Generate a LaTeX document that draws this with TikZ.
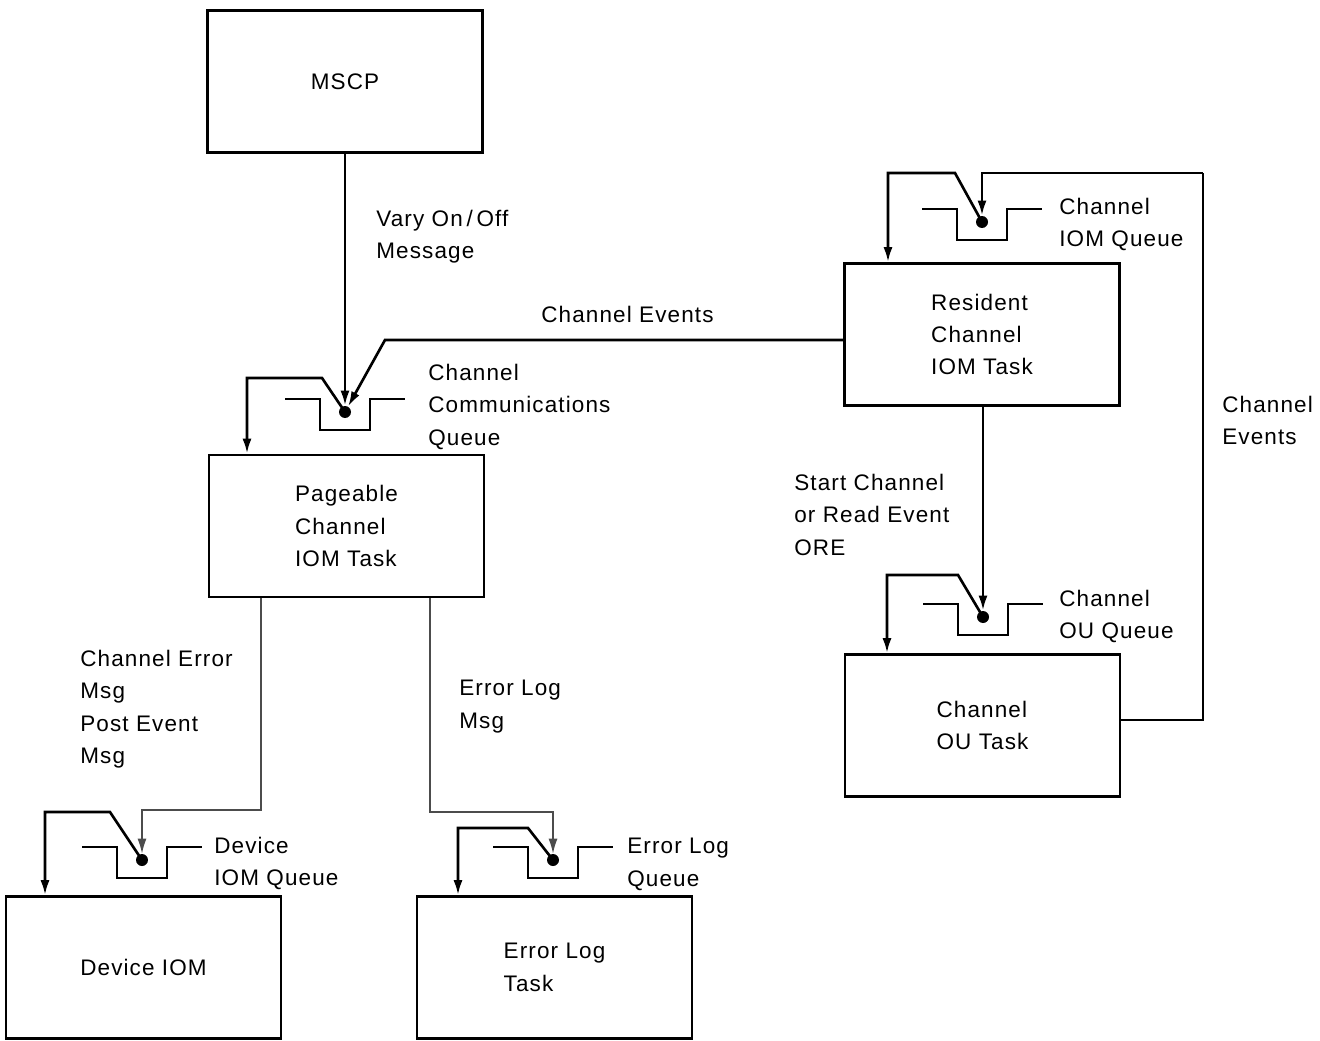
\documentclass[tikz,border=0pt]{standalone}
\usepackage{fontspec}
\setmainfont{Liberation Sans}[LetterSpace=5]
\usetikzlibrary{arrows.meta}

\newcommand{\lblfont}{\fontsize{12.8}{18.4}\selectfont}

% trough of a queue, drawn round its dot
\newcommand{\qtrough}[1]{%
  \draw[qline] ([shift={(-60,-13)}]#1.center) -- ++(35,0) -- ++(0,31)
    -- ++(50,0) -- ++(0,-31) -- ++(35,0);}

\begin{document}
\begin{tikzpicture}[x=0.02cm,y=-0.02cm,>={Latex[length=3mm,width=1.8mm]},
  task/.style={draw, line width=1.5pt, minimum width=5.5cm, minimum height=2.84cm,
    align=left, inner sep=0, font=\lblfont},
  lbl/.style={anchor=north west, inner sep=0, align=left, font=\lblfont},
  qdot/.style={circle, fill, inner sep=0, minimum size=0.24cm},
  qline/.style={line width=1.5pt},
  flow/.style={->, line width=1.5pt},
  thinflow/.style={->, line width=0.8pt, black!70}]

  \useasboundingbox (0,0) rectangle (1320,1041);

%%%%%%%%%%%%%%%%%%%%%%%%%%%%%%%%%%%%%%%%%%
  % Tasks
  \node[task] (mscp) at (345,81.5) {MSCP};
  \node[task] (pageable) at (346.5,526) {Pageable\\Channel\\IOM Task};
  \node[task] (resident) at (982,334.5) {Resident\\Channel\\IOM Task};
  \node[task] (outask) at (982.5,725.5) {Channel\\OU Task};
  \node[task] (device) at (143.5,967.5) {Device IOM};
  \node[task] (errtask) at (554.5,967.5) {Error Log\\Task};

  % Queues
  \node[qdot] (commq) at (345,412) {};
  \node[qdot] (iomq) at (982,222) {};
  \node[qdot] (ouq) at (983,617) {};
  \node[qdot] (devq) at (142,860) {};
  \node[qdot] (errq) at (553,860) {};
  \qtrough{commq}
  \qtrough{iomq}
  \qtrough{ouq}
  \qtrough{devq}
  \qtrough{errq}

%%%%%%%%%%%%%%%%%%%%%%%%%%%%%%%%%%%%%%%%%%
  % Into the communications queue
  \draw[flow] (mscp) -- (commq);
  \draw[flow] (resident.west |- 0,340) -- (385,340) -- (commq);
  \draw[flow] (commq.center) -- (322,378) -- (247,378) -- (247,0 |- pageable.north);

  % Resident task and its queue
  \draw[flow] (iomq.center) -- (955,173) -- (888,173) -- (888,0 |- resident.north);
  \draw[line width=1pt] (outask.east |- 0,720) -- (1203,720) -- (1203,173);
  \draw[flow] (1203,173) -- (iomq |- 0,173) -- (iomq);

  % OU task and its queue
  \draw[flow] (ouq |- resident.south) -- (ouq);
  \draw[flow] (ouq.center) -- (958,575) -- (887,575) -- (887,0 |- outask.north);

  % Out of the pageable task
  \draw[thinflow] (261,0 |- pageable.south) -- (261,810) -- (devq |- 0,810) -- (devq);
  \draw[flow] (devq.center) -- (110,812) -- (45,812) -- (45,0 |- device.north);
  \draw[thinflow] (430,0 |- pageable.south) -- (430,812) -- (errq |- 0,812) -- (errq);
  \draw[flow] (errq.center) -- (528,828) -- (458,828) -- (458,0 |- errtask.north);

%%%%%%%%%%%%%%%%%%%%%%%%%%%%%%%%%%%%%%%%%%
  % Labels
  \node[lbl] (varylbl) at (376,210) {Vary On\,/\,Off\\Message};
  \node[lbl] (evlbl) at (541,306) {Channel Events};
  \node[lbl] (commlbl) at (428,364) {Channel\\Communications\\Queue};
  \node[lbl] (iomlbl) at (1059,198) {Channel\\IOM Queue};
  \node[lbl] (evlbltwo) at (1222,396) {Channel\\Events};
  \node[lbl] (startlbl) at (794,474) {Start Channel\\or Read Event\\ORE};
  \node[lbl] (oulbl) at (1059,590) {Channel\\OU Queue};
  \node[lbl] (errmsglbl) at (80,650) {Channel Error\\Msg\\Post Event\\Msg};
  \node[lbl] (loglbl) at (459,680) {Error Log\\Msg};
  \node[lbl] (devlbl) at (214,837) {Device\\IOM Queue};
  \node[lbl] (errqlbl) at (627,838) {Error Log\\Queue};

\end{tikzpicture}
\end{document}
